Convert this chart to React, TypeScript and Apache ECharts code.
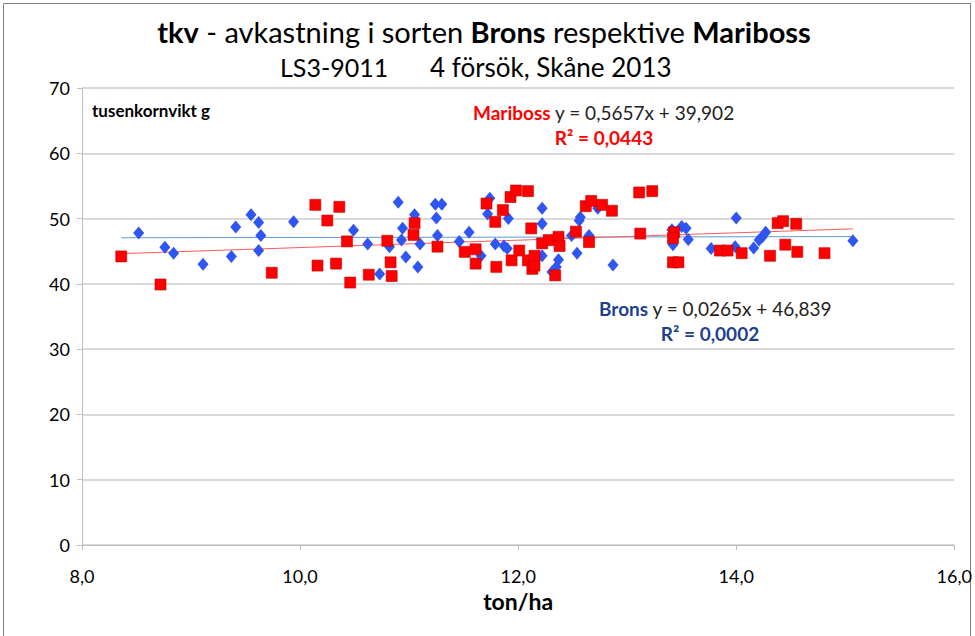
import { useEffect, useRef } from "react";
import * as echarts from "echarts";

// Brons (blue diamonds): [ton/ha, tkv g]
const bronsPoints: [number, number][] = [
  [8.52, 47.8], [8.76, 45.6], [8.84, 44.7], [9.11, 43.0], [9.37, 44.2], [9.41, 48.7],
  [9.55, 50.6], [9.62, 49.4], [9.64, 47.4], [9.62, 45.1], [9.94, 49.5],
  [10.49, 48.2], [10.62, 46.1], [10.73, 41.5], [10.82, 45.7], [10.9, 52.5], [10.93, 46.7],
  [10.94, 48.5], [10.97, 44.1], [11.05, 50.6], [11.08, 42.6], [11.1, 46.1],
  [11.24, 52.2], [11.3, 52.2], [11.25, 50.1], [11.26, 47.4], [11.46, 46.5], [11.55, 47.9],
  [11.66, 44.3], [11.72, 50.7], [11.74, 53.1], [11.79, 46.1], [11.87, 45.8], [11.9, 45.4], [11.91, 50.0],
  [12.22, 51.6], [12.22, 49.2], [12.22, 44.3], [12.37, 43.7], [12.35, 42.6], [12.31, 41.8],
  [12.49, 47.4], [12.54, 44.7], [12.56, 49.7], [12.57, 50.2], [12.65, 47.4], [12.73, 51.6], [12.87, 42.9],
  [13.41, 48.3], [13.5, 48.8], [13.54, 48.5], [13.42, 46.0], [13.56, 46.8], [13.77, 45.4],
  [14.0, 50.1], [13.99, 45.7], [14.16, 45.5], [14.21, 46.7], [14.24, 47.2], [14.27, 47.9], [15.07, 46.6],
];

// Mariboss (red squares): [ton/ha, tkv g]
const maribossPoints: [number, number][] = [
  [8.36, 44.2], [8.72, 39.9], [9.74, 41.7],
  [10.14, 52.1], [10.36, 51.8], [10.25, 49.7], [10.43, 46.5], [10.16, 42.8], [10.33, 43.1],
  [10.46, 40.2], [10.63, 41.4], [10.8, 46.6], [10.83, 43.3], [10.84, 41.2], [11.05, 49.3],
  [11.04, 47.5], [11.26, 45.7],
  [11.51, 44.9], [11.61, 45.3], [11.61, 43.1], [11.71, 52.3], [11.79, 49.5], [11.86, 51.3],
  [11.8, 42.6], [11.94, 43.6], [11.93, 53.3], [11.98, 54.3], [12.01, 45.1],
  [12.09, 54.2], [12.12, 48.5], [12.09, 43.6], [12.13, 42.3], [12.15, 42.8], [12.15, 44.3],
  [12.22, 46.2], [12.28, 46.7], [12.37, 47.2], [12.38, 45.8], [12.34, 41.3], [12.53, 48.0],
  [12.65, 46.4], [12.62, 51.9], [12.67, 52.7], [12.77, 52.1], [12.86, 51.2], [13.11, 54.0],
  [13.23, 54.2], [13.12, 47.7], [13.43, 47.9], [13.42, 47.0], [13.42, 43.3], [13.47, 43.3],
  [13.85, 45.1], [13.92, 45.1], [14.05, 44.7], [14.31, 44.3], [14.38, 49.3], [14.43, 49.6],
  [14.55, 49.2], [14.45, 46.0], [14.56, 44.9], [14.81, 44.7],
];

// Trend line coefficients as printed on the chart
const maribossTrend = { slope: 0.5657, intercept: 39.902 };
const bronsTrend = { slope: 0.0265, intercept: 46.839 };

const xAxisRange = { min: 8, max: 16, interval: 2 };
const yAxisRange = { min: 0, max: 70, interval: 10 };

const FONT = "Lato, 'Open Sans', sans-serif";

function trendLine(t: { slope: number; intercept: number }, x0: number, x1: number) {
  return [
    [x0, t.slope * x0 + t.intercept],
    [x1, t.slope * x1 + t.intercept],
  ];
}

export default function App() {
  const ref = useRef<HTMLDivElement>(null);

  useEffect(() => {
    document.body.style.margin = "0";
    const chart = echarts.init(ref.current!, null, { renderer: "svg" });
    const allX = [...bronsPoints, ...maribossPoints].map((p) => p[0]);
    const xMin = Math.min(...allX);
    const xMax = Math.max(...allX);
    const comma = (v: number) => v.toFixed(1).replace(".", ",");

    chart.setOption({
      animation: false,
      backgroundColor: "#ffffff",
      grid: { left: 82, right: 20, top: 88, bottom: 91 },
      xAxis: {
        type: "value",
        min: xAxisRange.min,
        max: xAxisRange.max,
        interval: xAxisRange.interval,
        name: "ton/ha",
        nameLocation: "middle",
        nameGap: 42,
        nameTextStyle: { fontFamily: FONT, fontWeight: "bold", fontSize: 23, color: "#000" },
        axisLine: { show: true, onZero: false, lineStyle: { color: "#bfbfbf", width: 1 } },
        axisTick: { show: true, length: 5, lineStyle: { color: "#bfbfbf" } },
        axisLabel: { formatter: comma, fontFamily: FONT, fontSize: 18, color: "#000", margin: 22 },
        splitLine: { show: false },
      },
      yAxis: {
        type: "value",
        min: yAxisRange.min,
        max: yAxisRange.max,
        interval: yAxisRange.interval,
        axisLine: { show: true, lineStyle: { color: "#bfbfbf", width: 1 } },
        axisTick: { show: true, length: 5, lineStyle: { color: "#bfbfbf" } },
        axisLabel: { fontFamily: FONT, fontSize: 18, color: "#000", margin: 12 },
        splitLine: { show: true, lineStyle: { color: "#d9d9d9", width: 2 } },
      },
      series: [
        {
          name: "Brons trend",
          type: "line",
          data: trendLine(bronsTrend, xMin, xMax),
          symbol: "none",
          lineStyle: { color: "#5b9bd5", width: 1 },
          z: 1,
        },
        {
          name: "Mariboss trend",
          type: "line",
          data: trendLine(maribossTrend, xMin, xMax),
          symbol: "none",
          lineStyle: { color: "#ff5a5a", width: 1 },
          z: 1,
        },
        {
          name: "Brons",
          type: "scatter",
          data: bronsPoints,
          symbol: "diamond",
          symbolSize: [11, 13],
          itemStyle: { color: "#2f55f2", opacity: 1 },
          z: 3,
        },
        {
          name: "Mariboss",
          type: "scatter",
          data: maribossPoints,
          symbol: "rect",
          symbolSize: 11,
          itemStyle: { color: "#ff0000", borderColor: "#c00000", borderWidth: 0.6, opacity: 1 },
          z: 4,
        },
      ],
      graphic: [
        {
          type: "rect",
          shape: { x: 3.5, y: 3.5, width: 967, height: 640 },
          style: { fill: "none", stroke: "#7f7f7f", lineWidth: 1 },
          silent: true,
          z: 0,
        },
        {
          type: "text",
          x: 484,
          y: 31,
          style: {
            text: "{b|tkv} - avkastning i sorten {b|Brons} respektive {b|Mariboss}",
            fontFamily: FONT,
            fontSize: 29,
            fill: "#000",
            align: "center",
            verticalAlign: "middle",
            rich: { b: { fontFamily: FONT, fontSize: 29, fontWeight: "bold", fill: "#000" } },
          },
        },
        {
          type: "text",
          x: 280,
          y: 67,
          style: { text: "LS3-9011", fontFamily: FONT, fontSize: 25, fill: "#000", align: "left", verticalAlign: "middle" },
        },
        {
          type: "text",
          x: 430,
          y: 67,
          style: { text: "4 försök, Skåne 2013", fontFamily: FONT, fontSize: 26, fill: "#000", align: "left", verticalAlign: "middle" },
        },
        {
          type: "text",
          x: 92,
          y: 110,
          style: { text: "tusenkornvikt g", fontFamily: FONT, fontSize: 17, fontWeight: "bold", fill: "#000", align: "left", verticalAlign: "middle" },
        },
        {
          type: "text",
          x: 473,
          y: 112,
          style: {
            text: "{r|Mariboss} y = 0,5657x + 39,902",
            fontFamily: FONT,
            fontSize: 19,
            fill: "#222",
            align: "left",
            verticalAlign: "middle",
            rich: { r: { fontFamily: FONT, fontSize: 19, fontWeight: "bold", fill: "#ff0000" } },
          },
        },
        {
          type: "text",
          x: 604,
          y: 137,
          style: { text: "R² = 0,0443", fontFamily: FONT, fontSize: 19, fontWeight: "bold", fill: "#ff0000", align: "center", verticalAlign: "middle" },
        },
        {
          type: "text",
          x: 599,
          y: 308,
          style: {
            text: "{r|Brons} y = 0,0265x + 46,839",
            fontFamily: FONT,
            fontSize: 19,
            fill: "#222",
            align: "left",
            verticalAlign: "middle",
            rich: { r: { fontFamily: FONT, fontSize: 19, fontWeight: "bold", fill: "#1f3f8f" } },
          },
        },
        {
          type: "text",
          x: 710,
          y: 333,
          style: { text: "R² = 0,0002", fontFamily: FONT, fontSize: 19, fontWeight: "bold", fill: "#1f3f8f", align: "center", verticalAlign: "middle" },
        },
      ],
    });
    return () => chart.dispose();
  }, []);

  return <div ref={ref} style={{ width: 975, height: 636 }} />;
}
